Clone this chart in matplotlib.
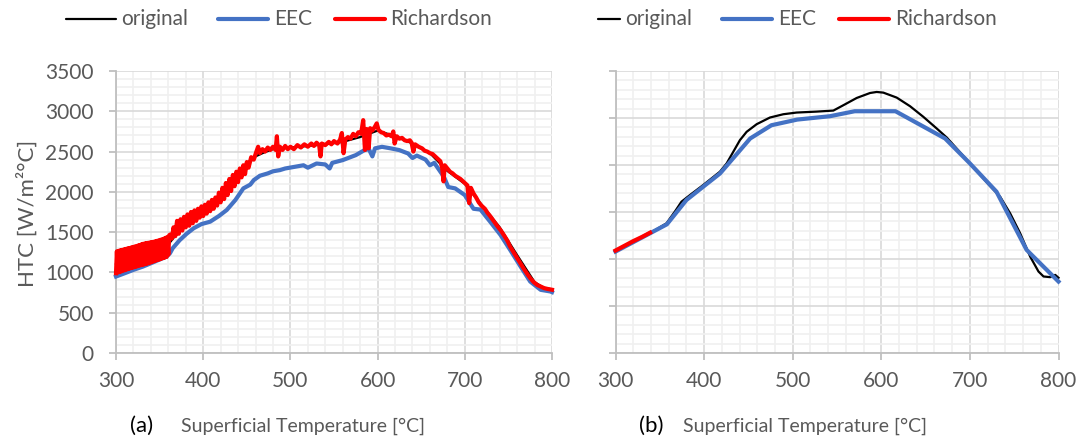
import matplotlib
matplotlib.use("Agg")
import matplotlib.pyplot as plt
from matplotlib.lines import Line2D
from matplotlib.ticker import MultipleLocator

plt.rcParams['font.family'] = ['Lato', 'DejaVu Sans']

# ---------------- data: panel (a) ----------------
orig_a_T = [300, 330, 358, 380, 400, 420, 440, 450, 460, 470, 480, 500, 520, 540, 560, 580, 600,
            620, 640, 660, 680, 700, 720, 740, 760, 780, 790, 800]
orig_a_v = [1100, 1220, 1320, 1620, 1750, 1900, 2180, 2330, 2440, 2490, 2530, 2550, 2570, 2590,
            2620, 2680, 2760, 2690, 2600, 2480, 2260, 2100, 1830, 1560, 1215, 880, 810, 790]

eec_a_T = [300, 310, 320, 331, 340, 350, 358, 362, 365, 373, 381, 389, 398, 408, 418, 427, 437,
           446, 454, 458, 465, 474, 480, 488, 494, 505, 515, 520, 530, 540, 545, 548, 560, 575,
           585, 590, 594, 597, 605, 615, 625, 635, 640, 645, 655, 660, 665, 676, 681, 689, 700,
           706, 710, 718, 729, 741, 752, 764, 775, 787, 798, 800]
eec_a_v = [949, 990, 1032, 1073, 1114, 1160, 1196, 1240, 1300, 1400, 1480, 1548, 1600, 1630, 1700,
           1775, 1900, 2043, 2090, 2146, 2200, 2229, 2255, 2270, 2290, 2311, 2330, 2300, 2352,
           2340, 2290, 2360, 2394, 2456, 2518, 2530, 2440, 2540, 2559, 2540, 2518, 2476, 2420,
           2450, 2400, 2330, 2360, 2187, 2060, 2043, 1960, 1857, 1790, 1780, 1631, 1465, 1280,
           1073, 887, 784, 764, 755]

rich_a_T = [300, 301, 302, 303, 304, 305, 306, 307, 308, 309, 310, 311, 312, 313, 314, 315,
            316, 317, 318, 319, 320, 321, 322, 323, 324, 325, 326, 327, 328, 329, 330, 331,
            332, 333, 334, 335, 336, 337, 338, 339, 340, 341, 342, 343, 344, 345, 346, 347,
            348, 349, 350, 351, 352, 353, 354, 355, 356, 357, 358, 359, 360, 361, 362,
            364, 366, 368, 370, 372, 374, 376, 378, 380, 382, 384, 386, 388, 390, 392, 394,
            396, 398, 400, 402, 404, 406, 408, 410, 412, 414, 416, 418, 420, 422, 424, 426,
            428, 430, 432, 434, 436, 438, 440, 442, 444, 446, 448, 450, 452, 455, 458, 461,
            463, 465, 468, 471, 474, 477, 480, 483, 484.5, 486, 488, 491, 494, 497, 500, 504,
            508, 512, 516, 520, 524, 527, 530, 533, 534.5, 536, 540, 544, 547, 550, 554, 557,
            559, 561, 563, 566, 569, 572, 575, 578, 581, 583.5, 585.5, 587.5, 589.7, 591.5,
            594, 597, 599, 601, 604, 607, 610, 613, 616, 618, 619.5, 622, 625, 628, 631, 634,
            637, 639, 641, 643, 647, 651, 654, 657, 660, 663, 666, 669, 672, 674, 675.6, 677,
            680, 683, 686, 689, 692, 695, 698, 701, 703, 705, 707, 710, 713, 716, 719, 723,
            726, 729, 733, 737, 741, 745, 749, 752, 756, 760, 764, 768, 772, 775, 779, 783,
            787, 791, 795, 800]
rich_a_v = [990, 1262, 998, 1268, 1005, 1275, 1012, 1280, 1020, 1286, 1028, 1292, 1035, 1297,
            1042, 1303, 1050, 1308, 1056, 1314, 1062, 1320, 1068, 1326, 1075, 1333, 1082, 1340,
            1088, 1348, 1094, 1355, 1098, 1360, 1104, 1365, 1110, 1368, 1117, 1372, 1125, 1376,
            1132, 1380, 1140, 1386, 1148, 1392, 1155, 1398, 1162, 1405, 1170, 1412, 1178, 1420,
            1185, 1430, 1192, 1440, 1220, 1460, 1470,
            1420, 1560, 1450, 1640, 1480, 1660, 1520, 1690, 1560, 1720,
            1580, 1750, 1610, 1770, 1640, 1790, 1680, 1820, 1700, 1840, 1730, 1870, 1760, 1900,
            1790, 1930, 1830, 1990, 1870, 2050, 1910, 2110, 1960, 2160, 2010, 2210, 2070, 2250,
            2120, 2290, 2180, 2330, 2220, 2370, 2300, 2430, 2400, 2500, 2560, 2480, 2530, 2500,
            2550, 2520, 2560, 2520, 2690, 2440, 2560, 2520, 2570, 2530, 2560, 2530, 2580, 2550,
            2590, 2560, 2600, 2570, 2610, 2580, 2440, 2600, 2580, 2620, 2590, 2630, 2600, 2650,
            2730, 2480, 2650, 2680, 2660, 2720, 2690, 2740, 2720, 2890, 2520, 2780, 2540, 2790,
            2760, 2810, 2850, 2770, 2740, 2730, 2700, 2710, 2690, 2750, 2600, 2690, 2660, 2670,
            2640, 2630, 2640, 2610, 2500, 2590, 2560, 2540, 2510, 2500, 2480, 2470, 2440, 2410,
            2380, 2300, 2130, 2330, 2290, 2250, 2230, 2200, 2180, 2160, 2130, 2100, 2080, 1860,
            2050, 1980, 1930, 1870, 1830, 1790, 1740, 1700, 1640, 1580, 1525, 1460, 1390, 1320,
            1250, 1180, 1110, 1040, 975, 930, 880, 845, 825, 805, 795, 785]

# ---------------- data: panel (b) ----------------
orig_b_T = [300, 320, 338.8, 357.6, 367, 374.5, 384, 399, 417.8, 425.4, 432.9, 440.4, 448,
            459.3, 474.3, 489.4, 504.4, 527, 545.9, 557.2, 572.2, 587.3, 594.8, 602.3, 617.4,
            632.5, 647.5, 662.6, 673.9, 700.2, 722.8, 734.1, 745.4, 756.7, 768, 777.4, 783.1,
            790.6, 796.3, 800]
orig_b_v = [1090, 1185, 1274, 1380, 1504, 1610, 1680, 1787, 1928, 2016, 2140, 2264, 2353,
            2434, 2505, 2540, 2558, 2568, 2579, 2636, 2713, 2766, 2777, 2770, 2717, 2625, 2512,
            2388, 2292, 2016, 1776, 1663, 1486, 1274, 1026, 867, 814, 807, 831, 800]

eec_b_T = [300, 339, 358, 380, 399, 418, 452, 476, 505, 542, 570, 616, 672, 700, 730, 764, 800]
eec_b_v = [1079, 1274, 1369, 1627, 1769, 1910, 2282, 2423, 2483, 2519, 2572, 2572, 2282,
           2017, 1716, 1097, 760]

rich_b_T = [300, 310, 320, 330, 339]
rich_b_v = [1090, 1140, 1190, 1235, 1280]

x_ticks = [300, 400, 500, 600, 700, 800]
y_ticks_a = [0, 500, 1000, 1500, 2000, 2500, 3000, 3500]
y_ticks_b = [0, 500, 1000, 1500, 2000, 2500, 3000]
legend_labels = ['original', 'EEC', 'Richardson']

C_ORIG = '#000000'
C_EEC = '#4472C4'
C_RICH = '#FF0000'
GRAY_TXT = '#595959'
MAJ = '#d9d9d9'
MIN = '#f0f0f0'
LW_THICK = 3.0
LW_THIN = 1.6

W, H = 1080, 442
fig = plt.figure(figsize=(W / 100, H / 100), dpi=100)

def px_rect(x0, y0, x1, y1):
    return [x0 / W, 1 - y1 / H, (x1 - x0) / W, (y1 - y0) / H]

ax1 = fig.add_axes(px_rect(116, 71, 552, 353))
ax2 = fig.add_axes(px_rect(615.5, 71, 1058.5, 353))

def style(ax, yticks, show_labels):
    ax.set_xlim(300, 800)
    ax.set_ylim(yticks[0], yticks[-1])
    ax.set_xticks(x_ticks)
    ax.set_yticks(yticks)
    ax.xaxis.set_minor_locator(MultipleLocator(20))
    ax.yaxis.set_minor_locator(MultipleLocator(100))
    ax.grid(which='minor', color=MIN, lw=1.2, zorder=0)
    ax.grid(which='major', color=MAJ, lw=1.2, zorder=0)
    ax.set_axisbelow(True)
    for s in ['top', 'right']:
        ax.spines[s].set_visible(False)
    for s in ['left', 'bottom']:
        ax.spines[s].set_color('#bfbfbf')
        ax.spines[s].set_linewidth(1.3)
    ax.tick_params(which='major', direction='out', length=5, width=1.3, color='#bfbfbf',
                   labelcolor=GRAY_TXT, labelsize=15)
    ax.tick_params(which='minor', length=0)
    ax.tick_params(axis='x', pad=8)
    ax.tick_params(axis='y', pad=11)
    if not show_labels:
        ax.tick_params(axis='y', labelleft=False)
    ax.set_facecolor('white')

style(ax1, y_ticks_a, True)
style(ax2, y_ticks_b, False)

ax1.plot(orig_a_T, orig_a_v, color=C_ORIG, lw=LW_THIN, zorder=3, clip_on=False)
ax1.plot(eec_a_T, eec_a_v, color=C_EEC, lw=LW_THICK, zorder=4, solid_joinstyle='round', clip_on=False)
ax1.plot(rich_a_T, rich_a_v, color=C_RICH, lw=LW_THICK, zorder=5, solid_joinstyle='round', clip_on=False)

ax2.plot(orig_b_T, orig_b_v, color=C_ORIG, lw=LW_THIN, zorder=3, clip_on=False)
ax2.plot(eec_b_T, eec_b_v, color=C_EEC, lw=LW_THICK, zorder=4, clip_on=False)
ax2.plot(rich_b_T, rich_b_v, color=C_RICH, lw=LW_THICK, zorder=5, clip_on=False)

# y label
fig.text(27 / W, 1 - 213 / H, 'HTC [W/m²°C]', rotation=90, ha='center', va='center',
         color=GRAY_TXT, fontsize=16)

# x labels with panel letters
fig.text(142 / W, 1 - 426 / H, '(a)', ha='center', va='center', color='black', fontsize=16)
fig.text(181 / W, 1 - 426 / H, 'Superficial Temperature [°C]', ha='left', va='center',
         color=GRAY_TXT, fontsize=14)
fig.text(651 / W, 1 - 426 / H, '(b)', ha='center', va='center', color='black', fontsize=16)
fig.text(683 / W, 1 - 426 / H, 'Superficial Temperature [°C]', ha='left', va='center',
         color=GRAY_TXT, fontsize=14)

# legends
def legend_row(items):
    for (x0, x1, tx, col, lw, lab) in items:
        fig.add_artist(Line2D([x0 / W, x1 / W], [1 - 19 / H, 1 - 19 / H], color=col, lw=lw,
                              solid_capstyle='round', transform=fig.transFigure))
        fig.text(tx / W, 1 - 19 / H, lab, ha='left', va='center', color=GRAY_TXT, fontsize=15)

legend_row([(66, 116, 121, C_ORIG, LW_THIN, legend_labels[0]),
            (218, 268, 274, C_EEC, LW_THICK, legend_labels[1]),
            (335, 385, 390, C_RICH, LW_THICK, legend_labels[2])])
legend_row([(598, 620, 625, C_ORIG, LW_THIN, legend_labels[0]),
            (722, 772, 778, C_EEC, LW_THICK, legend_labels[1]),
            (839, 889, 895, C_RICH, LW_THICK, legend_labels[2])])

fig.savefig('out.png', dpi=100, facecolor='white')
